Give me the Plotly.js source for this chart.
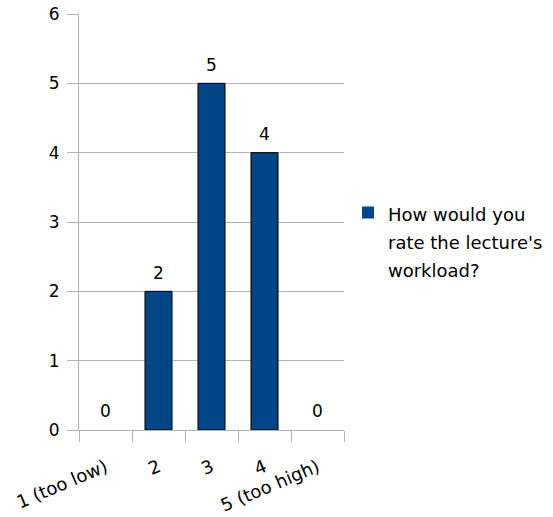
<!DOCTYPE html>
<html>
<head>
<meta charset="utf-8">
<script src="https://cdn.plot.ly/plotly-3.0.1.min.js"></script>
<style>html,body{margin:0;padding:0;background:#fff;}#chart{width:553px;height:517px;}</style>
</head>
<body>
<div id="chart"></div>
<script>
var categories = ['1 (too low)', '2', '3', '4', '5 (too high)'];
var counts = [0, 2, 5, 4, 0];
var legendLines = ['How would you', "rate the lecture's", 'workload?'];
var yTicks = [0, 1, 2, 3, 4, 5, 6];

var FONT = 'DejaVu Sans, Liberation Sans, sans-serif';
var GRID = '#b3b3b3';
var BAR = '#004586';

var seriesName = legendLines.map(function (l) {
  return '<span style="font-size:18px">' + l + '</span>';
}).join('<br>');

var bars = {
  type: 'bar',
  x: categories,
  y: counts,
  name: seriesName,
  marker: {
    color: BAR,
    line: { color: '#000000', width: counts.map(function (v) { return v > 0 ? 1 : 0; }) }
  },
  hoverinfo: 'skip',
  showlegend: true
};

var labels = {
  type: 'scatter',
  mode: 'markers+text',
  x: categories,
  y: counts,
  text: counts.map(String),
  textposition: 'top center',
  textfont: { family: FONT, size: 17, color: '#000' },
  marker: { size: 12, opacity: 0 },
  cliponaxis: false,
  hoverinfo: 'skip',
  showlegend: false
};

var layout = {
  width: 553,
  height: 517,
  margin: { l: 79, r: 209, t: 14, b: 87, autoexpand: false },
  paper_bgcolor: '#ffffff',
  plot_bgcolor: '#ffffff',
  font: { family: FONT, size: 17, color: '#000' },
  bargap: 0.49,
  showlegend: true,
  xaxis: {
    type: 'category',
    tickson: 'boundaries',
    ticks: 'outside',
    ticklen: 11,
    tickcolor: GRID,
    tickwidth: 1,
    showline: true,
    linecolor: GRID,
    linewidth: 1,
    showgrid: false,
    zeroline: false,
    tickangle: -23,
    ticklabelstandoff: 19,
    tickfont: { family: FONT, size: 18, color: '#000' },
    fixedrange: true
  },
  yaxis: {
    range: [0, 6],
    tickvals: yTicks,
    ticktext: yTicks.map(String),
    ticks: 'outside',
    ticklen: 11,
    tickcolor: GRID,
    showline: true,
    linecolor: GRID,
    showgrid: true,
    gridcolor: GRID,
    gridwidth: 1,
    zeroline: false,
    tickfont: { family: FONT, size: 17, color: '#000' },
    ticklabelstandoff: 4,
    fixedrange: true
  },
  legend: {
    x: 1.015,
    xanchor: 'left',
    y: 0.572,
    yanchor: 'top',
    valign: 'top',
    bgcolor: 'rgba(0,0,0,0)',
    borderwidth: 0,
    font: { family: FONT, size: 21.5, color: '#000' }
  }
};

Plotly.newPlot('chart', [bars, labels], layout, { displayModeBar: false, staticPlot: true });
</script>
</body>
</html>
